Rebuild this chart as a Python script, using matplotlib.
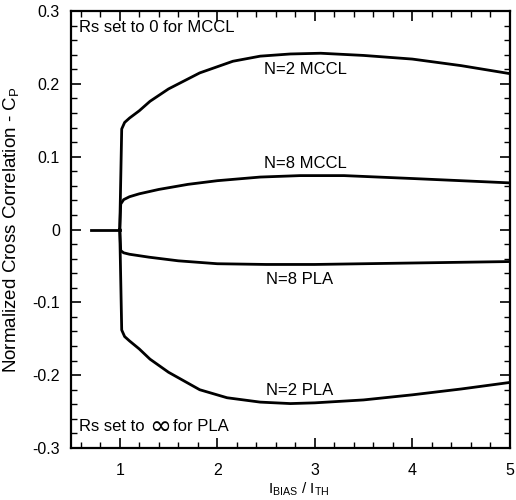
import numpy as np
import matplotlib
matplotlib.use("Agg")
import matplotlib.pyplot as plt
from matplotlib.ticker import MultipleLocator

plt.rcParams['font.family'] = ['Liberation Sans', 'DejaVu Sans']
plt.rcParams['mathtext.default'] = 'regular'

# flat part below threshold
x_off = [0.7, 1.0]
y_off = [0.0, 0.0]

# N=2 MCCL
x_m2 = [1.0, 1.02, 1.05, 1.1, 1.2, 1.31, 1.5, 1.82, 2.16, 2.44, 2.75, 3.06, 3.5, 4.0, 4.5, 5.0]
y_m2 = [0, 0.138, 0.147, 0.153, 0.163, 0.176, 0.193, 0.215, 0.231, 0.238, 0.241, 0.242, 0.239, 0.234, 0.225, 0.214]

# N=8 MCCL
x_m8 = [1.0, 1.01, 1.04, 1.1, 1.2, 1.4, 1.7, 2.0, 2.44, 2.85, 3.3, 4.0, 4.5, 5.0]
y_m8 = [0, 0.035, 0.041, 0.045, 0.049, 0.055, 0.062, 0.067, 0.072, 0.074, 0.074, 0.070, 0.067, 0.064]

# N=8 PLA
x_p8 = [1.0, 1.01, 1.04, 1.1, 1.3, 1.6, 2.0, 2.5, 3.0, 3.5, 4.0, 4.5, 5.0]
y_p8 = [0, -0.029, -0.032, -0.034, -0.038, -0.043, -0.047, -0.048, -0.048, -0.047, -0.046, -0.045, -0.044]

# N=2 PLA
x_p2 = [1.0, 1.02, 1.05, 1.1, 1.2, 1.31, 1.5, 1.82, 2.1, 2.44, 2.75, 3.0, 3.5, 4.0, 4.5, 5.0]
y_p2 = [0, -0.138, -0.147, -0.153, -0.164, -0.178, -0.196, -0.22, -0.231, -0.237, -0.239, -0.238, -0.234, -0.227, -0.219, -0.21]

fig = plt.figure(figsize=(5.16, 5.0), dpi=100)
ax = fig.add_axes([0.1376, 0.104, 0.8504, 0.874])

lw = 2.0
for xs, ys in [(x_off, y_off), (x_m2, y_m2), (x_m8, y_m8), (x_p8, y_p8), (x_p2, y_p2)]:
    ax.plot(xs, ys, color='black', lw=lw, solid_joinstyle='round')

fs = 12
ax.text(2.9, 0.219, 'N=2 MCCL', ha='center', va='center', fontsize=fs)
ax.text(2.9, 0.090, 'N=8 MCCL', ha='center', va='center', fontsize=fs)
ax.text(2.84, -0.068, 'N=8 PLA', ha='center', va='center', fontsize=fs)
ax.text(2.84, -0.221, 'N=2 PLA', ha='center', va='center', fontsize=fs)
ax.text(0.58, 0.277, 'Rs set to 0 for MCCL', ha='left', va='center', fontsize=fs)
ax.text(0.58, -0.271, 'Rs set to ', ha='left', va='center', fontsize=fs)
ax.text(1.3, -0.271, '\u221e', ha='left', va='center', fontsize=19, family='DejaVu Sans')
ax.text(1.55, -0.271, 'for PLA', ha='left', va='center', fontsize=fs)

ax.set_xlim(0.5, 5)
ax.set_ylim(-0.3, 0.3)
ax.xaxis.set_major_locator(MultipleLocator(1))
ax.xaxis.set_minor_locator(MultipleLocator(0.2))
ax.yaxis.set_major_locator(MultipleLocator(0.1))
ax.yaxis.set_minor_locator(MultipleLocator(0.02))
ax.set_yticks([-0.3, -0.2, -0.1, 0, 0.1, 0.2, 0.3])
ax.set_yticklabels(['-0.3', '-0.2', '-0.1', '0', '0.1', '0.2', '0.3'])
ax.set_xticks([1, 2, 3, 4, 5])
ax.tick_params(which='both', direction='in', top=True, right=True, labelsize=11.5)
ax.tick_params(which='major', length=7, width=1.2, pad=8)
ax.tick_params(axis='x', which='major', pad=11)
ax.tick_params(which='minor', length=4, width=1.0)
for s in ax.spines.values():
    s.set_linewidth(1.6)

ax.set_xlabel('$I_{BIAS}$ / $I_{TH}$', fontsize=11)
ax.xaxis.set_label_coords(0.52, -0.075)
ax.set_ylabel('Normalized Cross Correlation - $C_P$', fontsize=13.5)
ax.yaxis.set_label_coords(-0.115, 0.5)

fig.savefig('out.png', dpi=100)
